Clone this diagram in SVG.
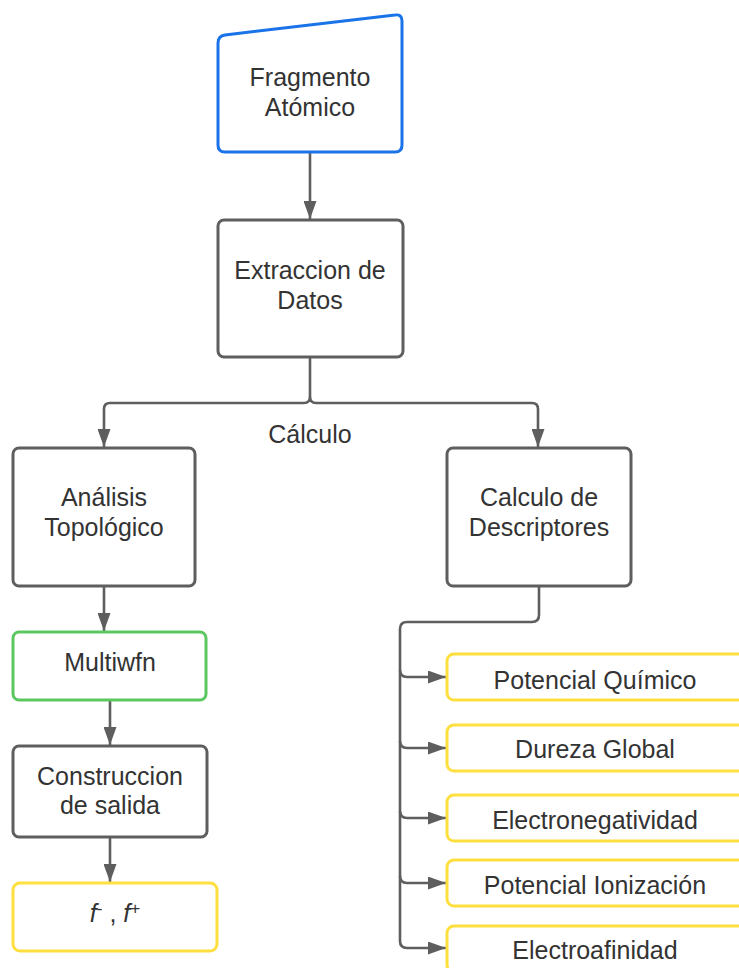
<svg xmlns="http://www.w3.org/2000/svg" width="739" height="968" viewBox="0 0 739 968">
<style>
text{font-family:"Liberation Sans",Arial,sans-serif;font-size:25px;fill:#333;text-anchor:middle}
.box{fill:#fff;stroke:#5e5e5e;stroke-width:3}
.blue{fill:#fff;stroke:#1a73e8;stroke-width:3}
.green{fill:#fff;stroke:#5cc75f;stroke-width:3}
.yellow{fill:#fff;stroke:#fedf3e;stroke-width:3}
.conn{fill:none;stroke:#5e5e5e;stroke-width:2.6}
</style>
<defs>
<marker id="arr" markerWidth="18" markerHeight="13" refX="18" refY="6.5" orient="auto" markerUnits="userSpaceOnUse">
<path d="M0,0 L18,6.5 L0,13 Z" fill="#5e5e5e"/>
</marker>
</defs>
<g id="connectors">
<path class="conn" d="M310,152 L310,219" marker-end="url(#arr)"/>
<path class="conn" d="M310,357 L310,397 Q310,403 304,403 L110,403 Q104,403 104,409 L104,447" marker-end="url(#arr)"/>
<path class="conn" d="M310,397 Q310,403 316,403 L532,403 Q538,403 538,409 L538,447" marker-end="url(#arr)"/>
<path class="conn" d="M104,586 L104,631" marker-end="url(#arr)"/>
<path class="conn" d="M110,700 L110,745" marker-end="url(#arr)"/>
<path class="conn" d="M110,837 L110,882" marker-end="url(#arr)"/>
<path class="conn" d="M539,586 L539,615 Q539,622 532,622 L407,622 Q400,622 400,629 L400,941 Q400,948 407,948 L446,948" marker-end="url(#arr)"/>
<path class="conn" d="M400,670 Q400,677 407,677 L446,677" marker-end="url(#arr)"/>
<path class="conn" d="M400,741 Q400,748 407,748 L446,748" marker-end="url(#arr)"/>
<path class="conn" d="M400,811 Q400,818 407,818 L446,818" marker-end="url(#arr)"/>
<path class="conn" d="M400,876 Q400,883 407,883 L446,883" marker-end="url(#arr)"/>
</g>
<g id="fragmento">
<path class="blue" d="M218,43 Q218,36 225,35 L395,15 Q402,14 402,21 L402,145 Q402,152 395,152 L225,152 Q218,152 218,145 Z"/>
<text x="310" y="86">Fragmento</text>
<text x="310" y="116">Atómico</text>
</g>
<g id="extraccion">
<rect class="box" x="218" y="220" width="185" height="137" rx="6"/>
<text x="310" y="279">Extraccion de</text>
<text x="310" y="309">Datos</text>
</g>
<text x="310" y="443">Cálculo</text>
<g id="analisis">
<rect class="box" x="13" y="448" width="182" height="138" rx="6"/>
<text x="104" y="506">Análisis</text>
<text x="104" y="536">Topológico</text>
</g>
<g id="calculo-descriptores">
<rect class="box" x="447" y="448" width="184" height="138" rx="6"/>
<text x="539" y="506">Calculo de</text>
<text x="539" y="536">Descriptores</text>
</g>
<g id="multiwfn">
<rect class="green" x="13" y="632" width="193" height="68" rx="6"/>
<text x="110" y="671">Multiwfn</text>
</g>
<g id="construccion">
<rect class="box" x="13" y="746" width="194" height="91" rx="6"/>
<text x="110" y="785">Construccion</text>
<text x="110" y="814">de salida</text>
</g>
<g id="fukui">
<rect class="yellow" x="13" y="883" width="204" height="68" rx="7"/>
<text x="115" y="922"><tspan font-style="italic">f</tspan><tspan dy="-8" font-size="17">-</tspan><tspan dy="8"> , </tspan><tspan font-style="italic">f</tspan><tspan dy="-8" font-size="17">+</tspan></text>
</g>
<g id="potencial-quimico">
<rect class="yellow" x="447" y="654" width="320" height="46" rx="7"/>
<text x="595" y="689">Potencial Químico</text>
</g>
<g id="dureza-global">
<rect class="yellow" x="447" y="725" width="320" height="46" rx="7"/>
<text x="595" y="758">Dureza Global</text>
</g>
<g id="electronegatividad">
<rect class="yellow" x="447" y="795" width="320" height="46" rx="7"/>
<text x="595" y="829">Electronegatividad</text>
</g>
<g id="potencial-ionizacion">
<rect class="yellow" x="447" y="860" width="320" height="46" rx="7"/>
<text x="595" y="894">Potencial Ionización</text>
</g>
<g id="electroafinidad">
<rect class="yellow" x="447" y="926" width="320" height="46" rx="7"/>
<text x="595" y="959">Electroafinidad</text>
</g>
</svg>
